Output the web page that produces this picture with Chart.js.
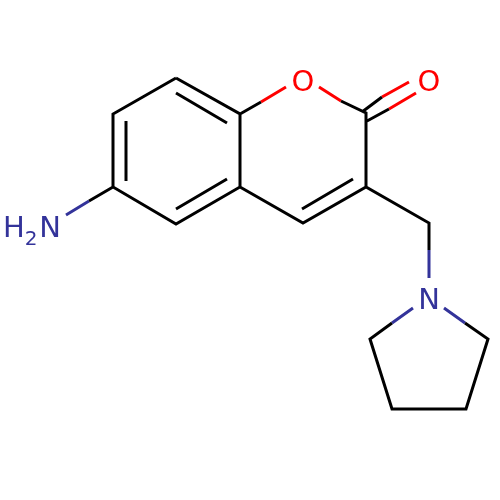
<!DOCTYPE html>
<html>
<head>
    <title>Molecule</title>
    <script src="https://cdnjs.cloudflare.com/ajax/libs/Chart.js/4.4.1/chart.umd.min.js"></script>
    <style>
        html, body { margin: 0; padding: 0; background: #fff; }
        canvas { display: block; }
    </style>
</head>
<body>
    <canvas id="myChart" width="500" height="500"></canvas>
    <script>
        // bond paths, null breaks the line between two strokes
        const blackX = [176, 113, 113, 176, 240, 240, 176, null, 126, 126, null, 176, 227, null, 176, 227, null,
            240, 303, 366, 429, 429, null, 240, 261, null, 302, 353, null, 366, 366, 341, null,
            362, 382, null, 367, 389, null, 113, 89, null, 392, 370, 392, 466, 488, 465];
        const blackY = [78, 114, 187, 224, 187, 114, 78, null, 121, 181, null, 93, 123, null, 209, 179, null,
            187, 223, 187, 223, 250, null, 114, 102, null, 209, 179, null, 187, 113, 101, null,
            112, 97, null, 121, 109, null, 187, 201, null, 323, 339, 409, 409, 339, 323];
        const blueX = [89, 66, null, 429, 429, null, 413, 392, null, 444, 465];
        const blueY = [201, 215, null, 250, 278, null, 308, 323, null, 308, 323];
        const redX = [261, 286, null, 341, 319, null, 382, 409, null, 389, 416];
        const redY = [102, 87, null, 101, 87, null, 97, 82, null, 109, 93];

        // atom labels
        const labelText = ['O', 'O', 'N', 'H', '2', 'N'];
        const labelX = [303, 429, 429, 14, 31, 50];
        const labelY = [80, 80, 298, 226, 238, 226];
        const labelSize = [29, 29, 29, 29, 20, 29];
        const labelColor = ['#ff0000', '#ff0000', '#33339a', '#33339a', '#33339a', '#33339a'];

        function toPoints(xs, ys) {
            return xs.map((x, i) => ({ x: x, y: ys[i] }));
        }

        function bondSet(xs, ys, color) {
            return {
                data: toPoints(xs, ys),
                showLine: true,
                spanGaps: false,
                borderColor: color,
                borderWidth: 3,
                borderCapStyle: 'butt',
                borderJoinStyle: 'miter',
                pointRadius: 0,
                tension: 0
            };
        }

        const atomLabels = {
            id: 'atomLabels',
            afterDatasetsDraw(chart) {
                const ctx = chart.ctx;
                ctx.save();
                ctx.textAlign = 'center';
                ctx.textBaseline = 'alphabetic';
                labelText.forEach((t, i) => {
                    ctx.font = labelSize[i] + 'px "DejaVu Sans"';
                    ctx.fillStyle = labelColor[i];
                    // baseline sits 0.365em under the middle of a capital
                    ctx.fillText(t, chart.scales.x.getPixelForValue(labelX[i]),
                        chart.scales.y.getPixelForValue(labelY[i]) + labelSize[i] * 0.365);
                });
                ctx.restore();
            }
        };

        new Chart(document.getElementById('myChart'), {
            type: 'scatter',
            data: {
                datasets: [
                    bondSet(blackX, blackY, '#000000'),
                    bondSet(blueX, blueY, '#33339a'),
                    bondSet(redX, redY, '#ff0000')
                ]
            },
            options: {
                responsive: false,
                animation: false,
                layout: { padding: 0 },
                plugins: { legend: { display: false }, tooltip: { enabled: false } },
                scales: {
                    x: { display: false, min: 0, max: 500 },
                    y: { display: false, min: 0, max: 500, reverse: true }
                }
            },
            plugins: [atomLabels]
        });
    </script>
</body>
</html>
